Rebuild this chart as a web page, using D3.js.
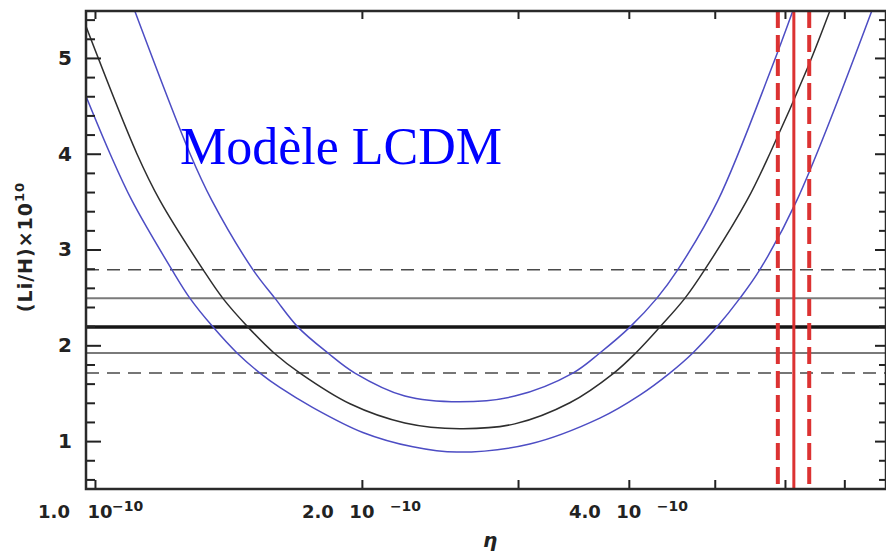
<!DOCTYPE html>
<html>
<head>
<meta charset="utf-8">
<script src="https://cdn.jsdelivr.net/npm/d3@7"></script>
<style>
  body { margin: 0; background: #fff; }
  svg { display: block; }
</style>
</head>
<body>
<svg id="chart"></svg>
<script>
// eta in units of 1e-10, Li/H in units of 1e-10
const etaCentral = [0.975, 1.115, 1.184, 1.324, 1.394, 1.488, 1.592, 1.703, 1.939, 2.236, 2.579, 2.975, 3.432, 3.847, 4.073, 4.335, 4.626, 4.872, 5.434, 5.768, 6.365, 6.741];
const liCentral = [5.35, 4.0, 3.51, 2.79, 2.49, 2.19, 1.92, 1.71, 1.39, 1.19, 1.13, 1.18, 1.40, 1.71, 1.92, 2.19, 2.49, 2.79, 3.51, 4.0, 4.9, 5.49];

const etaUpper = [1.109, 1.280, 1.355, 1.507, 1.596, 1.694, 1.831, 1.964, 2.236, 2.579, 2.975, 3.459, 3.710, 4.011, 4.301, 4.543, 5.040, 5.798, 6.123];
const liUpper = [5.49, 4.0, 3.51, 2.79, 2.49, 2.19, 1.92, 1.71, 1.47, 1.41, 1.47, 1.71, 1.92, 2.19, 2.49, 2.79, 3.51, 4.9, 5.49];

const etaLower = [0.975, 1.040, 1.101, 1.221, 1.280, 1.359, 1.446, 1.535, 1.616, 1.761, 2.005, 2.283, 2.559, 3.093, 3.710, 4.116, 4.449, 4.723, 5.027, 5.336, 5.621, 6.186, 7.517];
const liLower = [4.62, 4.0, 3.51, 2.79, 2.49, 2.19, 1.92, 1.71, 1.56, 1.35, 1.09, 0.94, 0.885, 0.97, 1.24, 1.48, 1.71, 1.92, 2.19, 2.49, 2.79, 3.51, 5.49];

// observed Li/H: central value, 1 sigma, 2 sigma
const liObsCentral = [2.19];
const liObsSigma = [2.49, 1.92];
const liObsOuter = [2.79, 1.71];

// WMAP eta: central value and error band
const etaObsCentral = [6.14];
const etaObsBand = [5.89, 6.39];

const etaTicks = [1, 2, 3, 4, 5, 6, 7];
const etaLabels = [1, 2, 4];
const liTicks = [1, 2, 3, 4, 5];
const liMinorTicks = d3.range(0.6, 5.45, 0.2).filter(v => Math.abs(v - Math.round(v)) > 0.01);

const title = "Modèle LCDM";

drawChart();

function drawChart() {
  const width = 886;
  const height = 552;
  const left = 86, right = 886, top = 11, bottom = 489;

  const svg = d3.select("#chart")
    .attr("width", width)
    .attr("height", height)
    .style("font-family", "'DejaVu Sans', sans-serif");

  const x = d3.scaleLog()
    .domain([0.977, 7.8])
    .range([left, right]);

  const y = d3.scaleLinear()
    .domain([0.5, 5.49])
    .range([bottom, top]);

  svg.append("clipPath")
    .attr("id", "plot-clip")
    .append("rect")
    .attr("x", left)
    .attr("y", top)
    .attr("width", right - left)
    .attr("height", bottom - top);

  const plot = svg.append("g").attr("clip-path", "url(#plot-clip)");

  // horizontal observation lines
  plot.selectAll(".li-outer")
    .data(liObsOuter)
    .enter()
    .append("line")
    .attr("x1", left).attr("x2", right)
    .attr("y1", d => y(d)).attr("y2", d => y(d))
    .attr("stroke", "#4a4a4a")
    .attr("stroke-width", 1.5)
    .attr("stroke-dasharray", "13,8");

  plot.selectAll(".li-sigma")
    .data(liObsSigma)
    .enter()
    .append("line")
    .attr("x1", left).attr("x2", right)
    .attr("y1", d => y(d)).attr("y2", d => y(d))
    .attr("stroke", "#7a7a7a")
    .attr("stroke-width", 2);

  plot.selectAll(".li-central")
    .data(liObsCentral)
    .enter()
    .append("line")
    .attr("x1", left).attr("x2", right)
    .attr("y1", d => y(d)).attr("y2", d => y(d))
    .attr("stroke", "#151515")
    .attr("stroke-width", 3.5);

  // model curves
  const line = d3.line()
    .x(d => x(d[0]))
    .y(d => y(d[1]))
    .curve(d3.curveCatmullRom.alpha(0.5));

  const curves = [
    { eta: etaUpper, li: liUpper, color: "#4d4dc4" },
    { eta: etaCentral, li: liCentral, color: "#2e2e2e" },
    { eta: etaLower, li: liLower, color: "#4d4dc4" }
  ];

  curves.forEach(c => {
    plot.append("path")
      .datum(c.eta.map((e, i) => [e, c.li[i]]))
      .attr("d", line)
      .attr("fill", "none")
      .attr("stroke", c.color)
      .attr("stroke-width", 1.5);
  });

  // WMAP band
  plot.selectAll(".eta-band")
    .data(etaObsBand)
    .enter()
    .append("line")
    .attr("x1", d => x(d)).attr("x2", d => x(d))
    .attr("y1", top).attr("y2", bottom)
    .attr("stroke", "#dc3232")
    .attr("stroke-width", 4)
    .attr("stroke-dasharray", "17,7");

  plot.selectAll(".eta-central")
    .data(etaObsCentral)
    .enter()
    .append("line")
    .attr("x1", d => x(d)).attr("x2", d => x(d))
    .attr("y1", top).attr("y2", bottom)
    .attr("stroke", "#dc3232")
    .attr("stroke-width", 3);

  // axes
  const yLeft = d3.axisLeft(y).tickValues(liTicks).tickSize(-15).tickPadding(14).tickFormat(d3.format("d"));
  const yLeftMinor = d3.axisLeft(y).tickValues(liMinorTicks).tickSize(-9).tickFormat("");
  const yRight = d3.axisRight(y).tickValues(liTicks).tickSize(-11).tickFormat("");
  const yRightMinor = d3.axisRight(y).tickValues(liMinorTicks).tickSize(-7).tickFormat("");
  const xBottom = d3.axisBottom(x).tickValues(etaTicks).tickSize(-9).tickFormat("");
  const xTop = d3.axisTop(x).tickValues(etaTicks).tickSize(-8).tickFormat("");

  const axes = [
    [yLeft, `translate(${left},0)`],
    [yLeftMinor, `translate(${left},0)`],
    [yRight, `translate(${right},0)`],
    [yRightMinor, `translate(${right},0)`],
    [xBottom, `translate(0,${bottom})`],
    [xTop, `translate(0,${top})`]
  ];

  axes.forEach(([axis, tr]) => {
    const g = svg.append("g").attr("transform", tr).call(axis);
    g.select(".domain").remove();
    g.selectAll(".tick line").attr("stroke", "#222").attr("stroke-width", 2);
    g.selectAll(".tick text")
      .attr("fill", "#222")
      .style("font-size", "20px")
      .style("font-weight", "bold")
      .style("font-family", "'DejaVu Sans', sans-serif");
  });

  // frame
  svg.append("rect")
    .attr("x", left).attr("y", top)
    .attr("width", right - left).attr("height", bottom - top)
    .attr("fill", "none")
    .attr("stroke", "#2a2a2a")
    .attr("stroke-width", 2.5);

  // x tick labels "1.0 10^-10"
  const xl = svg.selectAll(".xlab")
    .data(etaLabels)
    .enter()
    .append("g")
    .attr("transform", d => `translate(${x(d)},0)`)
    .attr("fill", "#222")
    .style("font-weight", "bold");

  xl.append("text")
    .attr("x", (d, i) => i === 0 ? -25 : -28)
    .attr("y", 518)
    .attr("text-anchor", "end")
    .style("font-size", "18px")
    .text(d => d.toFixed(1));

  xl.append("text")
    .attr("x", (d, i) => i === 0 ? 5 : 0)
    .attr("y", 518)
    .attr("text-anchor", "middle")
    .style("font-size", "18px")
    .text("10");

  xl.append("text")
    .attr("x", (d, i) => i === 0 ? 17 : 28)
    .attr("y", 511)
    .style("font-size", "14px")
    .text("\u221210");

  // axis titles
  svg.append("text")
    .attr("x", 490)
    .attr("y", 547)
    .attr("text-anchor", "middle")
    .attr("fill", "#222")
    .style("font-size", "20px")
    .style("font-weight", "bold")
    .style("font-style", "italic")
    .text("η");

  const yTitle = svg.append("text")
    .attr("transform", "translate(32,247) rotate(-90)")
    .attr("text-anchor", "middle")
    .attr("fill", "#222")
    .style("font-size", "19px")
    .style("font-weight", "bold")
    .style("letter-spacing", "1px");
  yTitle.append("tspan").text("(Li/H)×10");
  yTitle.append("tspan").attr("dy", -8).style("font-size", "13px").text("10");

  // model title
  svg.append("text")
    .attr("x", 180)
    .attr("y", 164)
    .attr("fill", "#0000ff")
    .style("font-family", "'Liberation Serif', 'Times New Roman', serif")
    .style("font-size", "52px")
    .text(title);
}
</script>
</body>
</html>
